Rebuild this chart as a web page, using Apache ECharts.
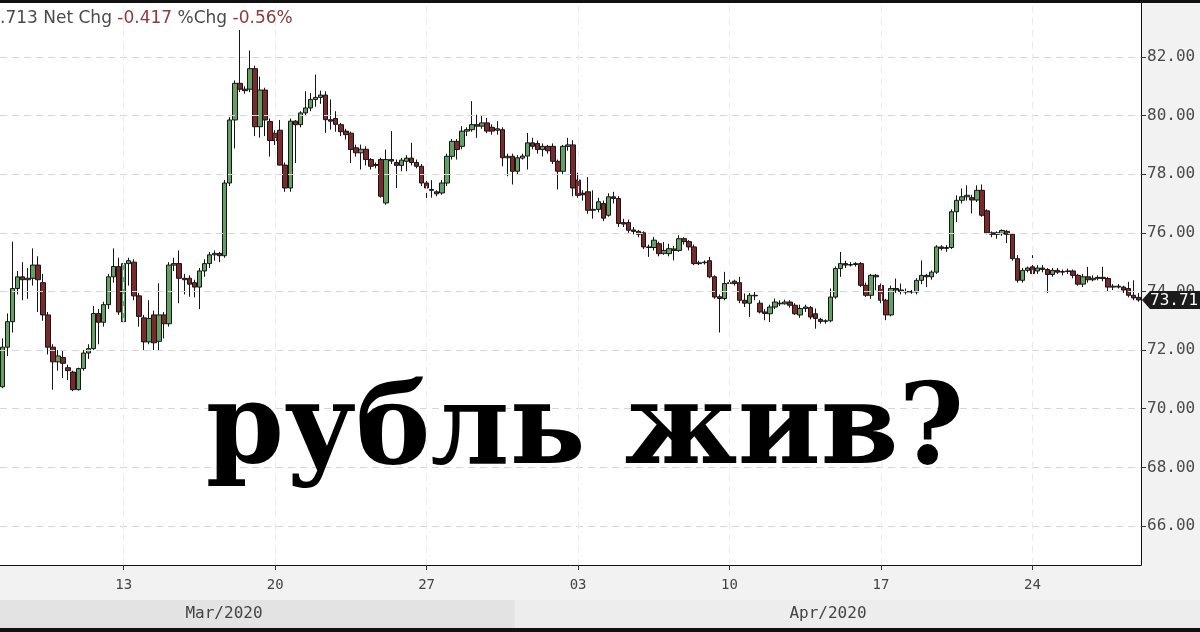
<!DOCTYPE html>
<html><head><meta charset="utf-8">
<script src="https://cdn.jsdelivr.net/npm/echarts@6/dist/echarts.min.js"></script>
<style>html,body{margin:0;padding:0;background:#f2f2f3;}#c{width:1200px;height:632px;}</style>
</head><body><div id="c"></div><script>
// ---- data ----
const tradingDays = ['2020-03-09','2020-03-10','2020-03-11','2020-03-12','2020-03-13',
  '2020-03-16','2020-03-17','2020-03-18','2020-03-19','2020-03-20',
  '2020-03-23','2020-03-24','2020-03-25','2020-03-26','2020-03-27',
  '2020-03-30','2020-03-31','2020-04-01','2020-04-02','2020-04-03',
  '2020-04-06','2020-04-07','2020-04-08','2020-04-09','2020-04-10',
  '2020-04-13','2020-04-14','2020-04-15','2020-04-16','2020-04-17',
  '2020-04-20','2020-04-21','2020-04-22','2020-04-23','2020-04-24',
  '2020-04-27','2020-04-28','2020-04-29','2020-04-30'];
const barHours = ['00:00','04:00','08:00','12:00','16:00','20:00'];
const tickDays = ['2020-03-13','2020-03-20','2020-03-27','2020-04-03','2020-04-10','2020-04-17','2020-04-24'];
const tickLabels = ['13','20','27','03','10','17','24'];
const yTicks = [66,68,70,72,74,76,78,80,82];
const monthLabels = ['Mar/2020','Apr/2020'];
const monthStartDay = '2020-04-01';
const headerLast = '.713', headerNetChg = '-0.417', headerPctChg = '-0.56%';
const overlayText = 'рубль жив?';
const lastPrice = 73.71;
// [open, close, low, high] – 4h bars
const rubOHLC = [
[70.75,72.10,70.70,72.40],[72.10,72.97,71.80,73.25],[72.97,74.10,72.60,75.70],[74.10,74.50,73.90,74.70],
[74.50,74.40,73.70,75.00],[74.40,74.45,73.75,74.80],[74.45,74.90,74.20,75.47],[74.90,74.40,73.30,75.20],
[74.30,73.20,73.00,74.60],[73.20,72.10,71.85,73.30],[72.10,71.60,70.65,72.20],[71.60,71.80,71.30,72.00],
[71.75,71.55,71.05,72.00],[71.40,71.30,70.98,71.50],[71.25,70.65,70.60,71.30],[70.65,71.37,70.62,71.40],
[71.37,71.90,71.30,72.00],[71.90,72.05,71.70,72.20],[72.05,73.25,72.00,73.50],[73.25,72.95,72.20,73.40],
[72.95,73.55,72.80,73.65],[73.55,74.50,73.40,74.60],[74.50,74.85,74.30,75.47],[74.85,73.30,73.20,75.15],
[72.97,74.95,72.90,75.05],[74.95,75.05,74.20,75.15],[75.00,73.85,73.70,75.10],[73.85,73.15,72.80,73.95],
[73.10,72.28,72.00,73.20],[72.28,73.08,72.20,73.70],[73.20,72.25,72.00,73.35],[72.30,73.20,72.00,74.28],
[73.20,72.90,72.40,73.30],[72.90,74.90,72.80,75.00],[74.90,74.95,74.70,75.15],[74.95,74.45,73.60,75.40],
[74.45,74.40,73.90,74.60],[74.45,74.25,73.82,74.55],[74.30,74.15,73.80,74.40],[74.15,74.70,73.40,74.80],
[74.70,74.95,74.50,75.10],[74.95,75.25,74.80,75.35],[75.25,75.30,75.05,75.40],[75.30,75.22,75.00,75.35],
[75.22,77.70,75.15,77.80],[77.70,79.85,77.60,79.95],[79.85,81.10,78.88,81.20],[81.10,80.90,80.80,82.92],
[80.90,80.85,80.75,81.00],[80.90,81.60,80.80,82.22],[81.60,79.62,79.30,81.70],[79.62,80.87,79.25,81.33],
[80.87,79.85,79.30,80.95],[79.80,79.15,78.60,79.90],[79.40,79.15,79.00,79.50],[79.50,78.31,78.30,79.85],
[78.31,77.53,77.40,78.40],
[77.53,79.81,77.40,79.90],[79.81,79.69,78.38,79.85],[79.69,80.09,79.60,80.15],[80.09,80.26,80.00,80.83],
[80.26,80.55,80.15,80.77],[80.55,80.62,80.30,81.40],[80.62,80.70,80.40,80.85],[80.70,79.86,79.41,80.83],
[79.86,79.81,79.52,80.55],[79.90,79.70,79.45,80.15],[79.69,79.45,79.30,79.75],[79.47,79.35,79.18,79.55],
[79.40,78.84,78.38,79.45],[78.90,78.73,78.60,79.01],[78.73,78.85,78.16,79.01],[78.85,78.50,78.30,78.95],
[78.50,78.27,78.16,78.55],[78.30,78.33,78.20,78.40],[78.50,77.25,77.20,78.56],[77.02,78.50,76.96,78.84],
[78.50,78.45,78.35,79.47],[78.40,78.30,77.53,78.50],[78.30,78.48,78.10,78.56],[78.44,78.55,78.10,78.65],
[78.55,78.40,78.30,79.07],[78.40,78.27,78.20,78.50],[78.27,77.70,77.60,78.35],[77.70,77.53,76.96,77.80],
[77.48,77.45,77.20,77.80],[77.40,77.33,77.25,77.45],[77.36,77.70,77.30,77.80],[77.70,78.61,77.60,78.70],
[78.61,79.12,78.50,79.20],[79.12,78.84,78.50,79.20],[78.95,79.47,78.85,79.64],[79.47,79.52,79.30,79.60],
[79.52,79.69,79.45,80.49],[79.69,79.64,79.24,80.03],[79.64,79.75,79.55,80.00],[79.75,79.47,79.40,79.92],
[79.60,79.47,79.35,79.70],[79.50,79.55,79.35,79.81],[79.52,78.56,78.27,79.60],[78.56,78.61,77.93,78.70],
[78.61,78.10,77.65,78.70],[78.10,78.56,78.00,78.65],[78.55,78.62,78.50,78.70],[78.62,79.07,78.16,79.41],
[79.07,78.95,78.85,79.24],[79.05,78.84,78.70,79.15],[78.84,78.95,78.61,79.05],[78.95,78.80,78.70,79.00],
[78.95,78.44,78.35,79.05],[78.44,78.10,77.48,78.50],[78.10,78.95,78.00,79.00],[78.95,79.00,78.80,79.24],
[79.00,77.53,77.25,79.16],
[77.80,77.28,77.20,78.05],[77.35,77.30,77.10,77.45],[77.40,76.77,76.65,77.90],[76.77,76.80,76.48,77.45],
[76.80,77.06,76.70,77.20],[77.00,76.50,76.40,77.10],[76.60,77.23,76.55,77.35],[77.23,77.17,77.00,77.40],
[77.17,76.32,76.20,77.25],[76.35,76.30,76.20,76.48],[76.35,76.09,76.00,76.45],[76.10,76.05,75.95,76.20],
[76.05,75.95,75.85,76.10],[76.00,75.52,75.45,76.05],[75.52,75.50,75.18,75.60],[75.50,75.75,75.40,75.86],
[75.63,75.29,75.20,75.70],[75.30,75.40,75.25,75.69],[75.29,75.46,75.20,75.63],[75.45,75.40,75.06,75.55],
[75.40,75.80,75.35,75.92],[75.80,75.70,75.60,75.85],[75.70,75.52,75.40,75.75],[75.52,74.95,74.90,75.60],
[74.95,74.98,74.90,75.05],[74.98,75.00,74.92,75.06],[75.05,74.50,74.45,75.18],[74.50,73.81,73.75,74.55],
[73.82,73.76,72.60,73.90],[73.76,74.27,73.70,74.67],[74.27,74.30,74.20,74.40],[74.35,74.27,74.20,74.40],
[74.30,73.70,73.60,74.50],[73.70,73.60,73.47,73.93],[73.60,73.87,73.13,73.95],[73.87,73.85,73.70,73.98],
[73.60,73.30,73.25,73.70],[73.30,73.25,73.02,73.40],[73.24,73.47,72.96,73.55],[73.47,73.64,73.40,73.76],
[73.60,73.58,73.50,73.70],[73.58,73.64,73.55,73.72],[73.64,73.53,73.45,73.70],[73.53,73.24,73.20,73.60],
[73.20,73.42,73.10,73.55],[73.42,73.47,73.30,73.55],[73.45,73.13,73.05,73.50],[73.24,73.08,72.73,73.42],
[73.05,72.98,72.90,73.10],[72.98,73.00,72.90,73.05],[73.00,73.81,72.95,74.10],[73.81,74.78,73.75,74.85],
[74.78,74.95,74.50,75.35],[74.95,74.90,74.80,75.05],[74.90,74.92,74.85,75.00],[74.92,74.95,74.85,75.00],
[74.95,74.21,74.15,75.00],[74.21,73.87,73.81,74.30],[73.87,74.55,73.75,74.60],[74.55,74.50,74.04,74.60],
[74.20,73.70,73.60,74.27],[73.70,73.20,73.02,73.75],[73.20,74.10,73.15,74.20],[74.10,74.05,73.95,74.44],
[74.05,74.00,73.90,74.27],[74.00,73.98,73.90,74.10],[73.98,74.00,73.92,74.05],[73.98,74.38,73.90,74.45],
[74.38,74.55,74.25,75.06],[74.55,74.50,74.15,74.60],[74.50,74.66,74.40,74.72],[74.66,75.52,74.60,75.58],
[75.52,75.47,75.40,75.58],[75.47,75.50,75.35,75.58],[75.50,76.72,75.45,76.80],[76.72,77.11,76.37,77.28],
[77.11,77.23,77.00,77.51],[77.23,77.28,77.10,77.62],[77.20,77.12,76.66,77.30],[77.12,77.45,77.05,77.62],
[77.45,76.60,76.55,77.65],[76.75,76.00,75.95,76.80],[76.00,75.95,75.85,76.05],[75.95,76.00,75.80,76.05],
[75.97,76.08,75.90,76.12],[76.05,75.95,75.65,76.10],[75.95,75.12,75.05,76.00],[75.12,74.38,74.30,75.24],
[74.38,74.72,74.30,74.80],[74.72,74.80,74.65,74.85],[74.84,74.61,74.55,75.24],[74.70,74.80,74.60,74.90],
[74.80,74.75,74.65,74.90],[74.75,74.58,73.95,74.80],[74.58,74.72,74.50,74.80],[74.72,74.66,74.60,74.80],
[74.66,74.68,74.55,74.75],[74.68,74.70,74.60,74.78],[74.70,74.55,74.45,74.75],[74.55,74.25,74.20,74.60],
[74.25,74.50,74.15,74.60],[74.50,74.40,74.30,74.84],[74.40,74.45,74.35,74.55],[74.45,74.48,74.38,74.55],
[74.48,74.44,74.35,74.84],[74.44,74.15,74.00,74.50],[74.15,74.18,74.05,74.25],[74.18,74.15,74.10,74.25],
[74.15,74.05,73.95,74.20],[74.10,73.87,73.80,74.33],[73.87,73.78,73.70,74.38],[73.80,73.71,73.65,73.95]
];

// ---- build ----
const categories = rubOHLC.map((d, i) => tradingDays[Math.floor(i / 6)] + ' ' + barHours[i % 6]);
const tickCats = tickDays.map(d => d + ' 00:00');
const tickLabelMap = {};
tickCats.forEach((c, k) => { tickLabelMap[c] = tickLabels[k]; });
const isTick = (i, v) => Object.prototype.hasOwnProperty.call(tickLabelMap, v);

const mono = '"DejaVu Sans Mono", monospace';
const chart = echarts.init(document.getElementById('c'), null, {renderer: 'canvas'});

chart.setOption({
  animation: false,
  backgroundColor: '#f2f2f3',
  grid: {left: 0, right: 59, top: 3, bottom: 67, show: true, backgroundColor: '#ffffff', borderWidth: 0},
  xAxis: {
    type: 'category', data: categories, boundaryGap: true,
    axisLine: {show: true, onZero: false, lineStyle: {color: '#111', width: 1}},
    axisTick: {show: true, alignWithLabel: true, interval: isTick, length: 5, lineStyle: {color: '#333'}},
    axisLabel: {interval: isTick, formatter: v => tickLabelMap[v] || '', color: '#444',
                fontFamily: mono, fontSize: 14, margin: 13},
    splitLine: {show: false}
  },
  yAxis: {
    type: 'value', position: 'right', min: 64.67, max: 83.84, scale: true,
    axisLine: {show: true, lineStyle: {color: '#111', width: 1}},
    axisTick: {show: true, customValues: yTicks, length: 5, lineStyle: {color: '#333'}},
    axisLabel: {customValues: yTicks, formatter: v => Number(v).toFixed(2), color: '#4a4a4a',
                fontFamily: mono, fontSize: 16, margin: 6},
    splitLine: {show: false}
  },
  series: [
    {
      type: 'line', data: [], z: 1, silent: true,
      markLine: {
        symbol: ['none', 'none'], silent: true, animation: false, label: {show: false},
        lineStyle: {type: [7, 5], color: '#d6d6d6', width: 1},
        data: yTicks.map(v => ({yAxis: v})).concat(
          tickCats.map(c => ({xAxis: c, lineStyle: {type: [7, 5], color: '#ebebeb', width: 1}})))
      }
    },
    {
      type: 'candlestick', data: rubOHLC, z: 3, barWidth: 5,
      itemStyle: {color: '#64a064', color0: '#7a2a2a', borderColor: '#151515', borderColor0: '#151515', borderWidth: 1}
    }
  ]
});

// decorations positioned through the chart's own scales
const halfBand = (chart.convertToPixel({xAxisIndex: 0}, categories[1]) - chart.convertToPixel({xAxisIndex: 0}, categories[0])) / 2;
const aprIdx = categories.indexOf(monthStartDay + ' 00:00');
const aprX = chart.convertToPixel({xAxisIndex: 0}, categories[aprIdx]) - halfBand;
const plotRight = chart.convertToPixel({xAxisIndex: 0}, categories[categories.length - 1]) + halfBand;
const tagY = chart.convertToPixel({yAxisIndex: 0}, lastPrice);

chart.setOption({
  graphic: [
    {type: 'rect', id: 'topbar', shape: {x: 0, y: 0, width: 1200, height: 3}, style: {fill: '#111'}, z: 50},
    {type: 'rect', id: 'mar', shape: {x: 0, y: 600, width: aprX, height: 28}, style: {fill: '#e3e3e4'}, z: 1},
    {type: 'rect', id: 'apr', shape: {x: aprX, y: 600, width: 1200 - aprX, height: 28}, style: {fill: '#ededee'}, z: 1},
    {type: 'rect', id: 'botbar', shape: {x: 0, y: 628, width: 1200, height: 4}, style: {fill: '#111'}, z: 50},
    {type: 'text', id: 'm1', x: 224, y: 614, z: 5,
      style: {text: monthLabels[0], fill: '#444', font: '16px ' + mono, align: 'center', verticalAlign: 'middle'}},
    {type: 'text', id: 'm2', x: (aprX + plotRight) / 2, y: 614, z: 5,
      style: {text: monthLabels[1], fill: '#444', font: '16px ' + mono, align: 'center', verticalAlign: 'middle'}},
    {type: 'text', id: 'hdr', x: 0, y: 19, z: 20,
      style: {
        text: '{g|' + headerLast + ' Net Chg }{r|' + headerNetChg + '}{g| %Chg }{r|' + headerPctChg + '}',
        verticalAlign: 'middle',
        rich: {
          g: {fill: '#4a4a4a', fontFamily: '"DejaVu Sans"', fontSize: 17},
          r: {fill: '#8e3a3a', fontFamily: '"DejaVu Sans"', fontSize: 17}
        }
      }},
    {type: 'text', id: 'big', x: 585, y: 434, z: 30,
      style: {text: overlayText, fill: '#000', font: 'bold 112px "DejaVu Serif"', align: 'center', verticalAlign: 'middle'}},
    {type: 'polygon', id: 'tag', z: 40,
      shape: {points: [[plotRight + 1, tagY], [plotRight + 9, tagY - 9], [1200, tagY - 9], [1200, tagY + 9], [plotRight + 9, tagY + 9]]},
      style: {fill: '#1b1b1b'}},
    {type: 'text', id: 'tagtxt', x: plotRight + 9, y: tagY + 1, z: 41,
      style: {text: lastPrice.toFixed(2), fill: '#fff', font: '16px ' + mono, verticalAlign: 'middle'}}
  ]
});
</script></body></html>
